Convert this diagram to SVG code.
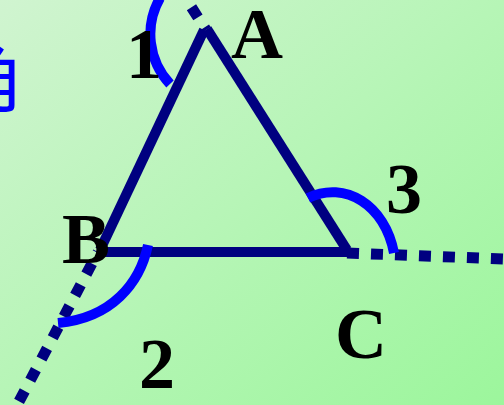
<svg xmlns="http://www.w3.org/2000/svg" width="504" height="405" viewBox="0 0 504 405">
  <defs>
    <linearGradient id="bg" x1="0" y1="0" x2="1" y2="1">
      <stop offset="0" stop-color="#D0F4D0"/>
      <stop offset="1" stop-color="#9CF69C"/>
    </linearGradient>
    <style>
      .side { stroke: #000080; stroke-width: 10; fill: none; stroke-linecap: butt; }
      .dot { stroke: #000080; stroke-width: 11; fill: none; stroke-dasharray: 12 12; stroke-linecap: butt; }
      .arc { stroke: #0000FF; stroke-width: 10; fill: none; stroke-linecap: butt; }
      .lbl { font-family: "Liberation Serif", "Times New Roman", serif; font-weight: bold; font-size: 72px; fill: #000000; }
      .cjk { font-family: "Noto Sans CJK SC", "Noto Sans CJK JP", sans-serif; font-size: 76px; fill: #0000FF; }
    </style>
  </defs>
  <rect x="0" y="0" width="504" height="405" fill="url(#bg)"/>
  <text class="cjk" x="-52" y="106">角</text>
  <g id="connectors">
    <path class="dot" d="M206,30 L160,-42" stroke-dashoffset="9"/>
    <path class="dot" d="M347,253 L504,259"/>
    <path class="dot" d="M98,252 L14,411" stroke-dashoffset="11"/>
  </g>
  <g id="triangle">
    <line class="side" x1="204" y1="30" x2="100" y2="250"/>
    <line class="side" x1="207" y1="29" x2="347" y2="250"/>
    <line class="side" x1="99" y1="252" x2="349" y2="252"/>
  </g>
  <g id="arcs">
    <path id="arc1" class="arc" d="M170,84 A73,73 0 0 1 160,-2"/>
    <path id="arc2" class="arc" d="M148,245 C140,283 112,318 58,323"/>
    <path id="arc3" class="arc" d="M308,198 C345,180 385,205 394,253"/>
  </g>
  <g id="vertexA"><text class="lbl" x="231" y="58">A</text></g>
  <g id="vertexB"><text class="lbl" x="62" y="263">B</text></g>
  <g id="vertexC"><text class="lbl" x="335" y="358">C</text></g>
  <g id="angle1"><text class="lbl" x="126" y="78">1</text></g>
  <g id="angle2"><text class="lbl" x="139" y="388">2</text></g>
  <g id="angle3"><text class="lbl" x="386" y="213">3</text></g>
</svg>
